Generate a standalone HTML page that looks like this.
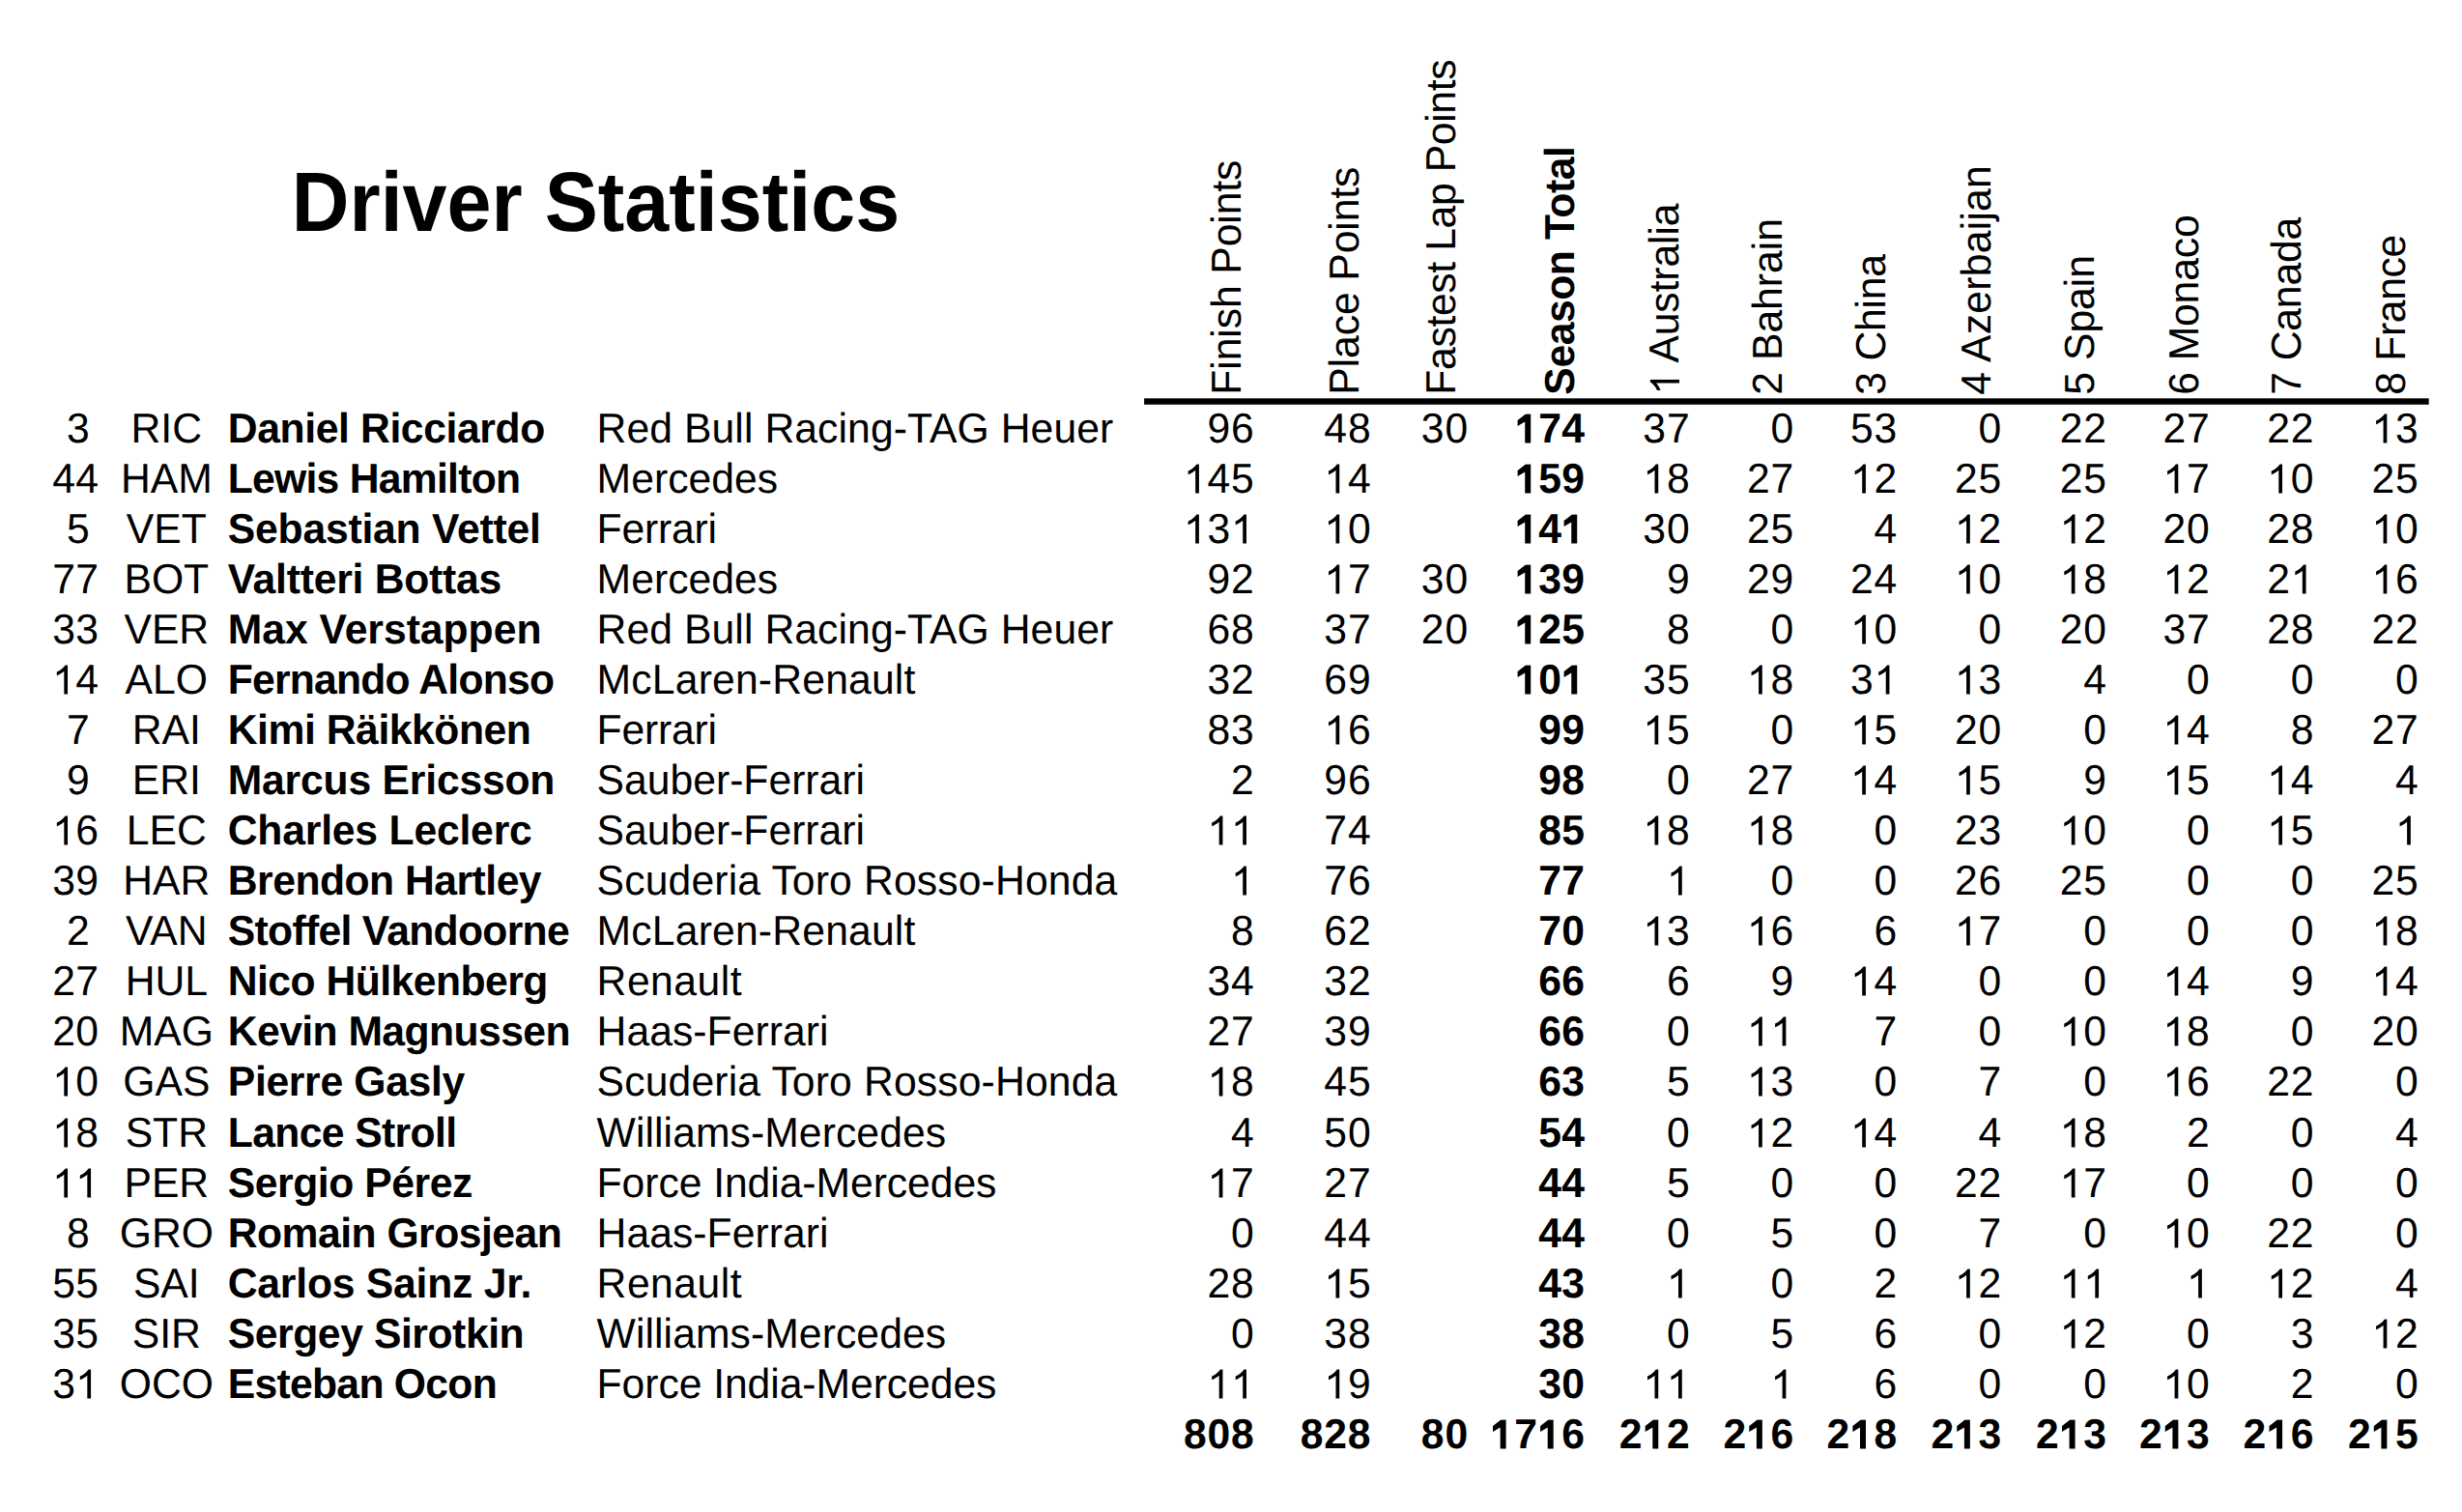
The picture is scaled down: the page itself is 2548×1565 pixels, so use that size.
<!DOCTYPE html>
<html><head><meta charset="utf-8"><style>
html,body{margin:0;padding:0;background:#fff;}
body{width:2548px;height:1565px;position:relative;overflow:hidden;font-family:"Liberation Sans",sans-serif;color:#000;}
.o,.ob{position:relative;color:transparent;}
.o::before,.ob::before{content:"";position:absolute;left:0;top:0.2003em;width:0.5562em;height:0.705em;background:#000;}
.ob::before{top:0.2053em;height:0.70em;}
.o::before{clip-path:polygon(66.99% 100.00%,51.19% 100.00%,51.19% 21.76%,48.40% 23.74%,45.74% 25.46%,43.22% 26.91%,40.83% 28.10%,38.50% 29.16%,36.18% 30.22%,33.87% 31.28%,31.56% 32.33%,29.09% 33.39%,26.26% 34.45%,23.09% 35.50%,19.58% 36.56%,19.58% 24.69%,25.69% 22.36%,30.76% 20.20%,34.80% 18.21%,37.80% 16.41%,40.28% 14.68%,42.76% 12.96%,45.24% 11.24%,47.72% 9.52%,50.15% 7.63%,52.47% 5.41%,54.69% 2.87%,56.80% 0.00%,66.99% 0.00%);}
.ob::before{clip-path:polygon(67.16% 100.00%,41.97% 100.00%,41.97% 27.40%,9.83% 42.23%,9.83% 22.36%,46.36% 0.00%,67.16% 0.00%);}
.t{position:absolute;white-space:nowrap;line-height:normal;text-rendering:geometricPrecision;}
</style></head><body>
<svg style="position:absolute;left:0;top:0" width="2548" height="600"><rect x="1184.10" y="412.30" width="1329.60" height="6.45" fill="#000"/></svg>
<div class="t" style="top:162.91px;font-size:82.67px;transform-origin:0 74.839px;transform:scaleY(1.0570);font-weight:bold;left:301.80px;">Driver Statistics</div>
<div class="t" style="top:419.61px;font-size:42.67px;transform-origin:0 38.628px;transform:scaleY(1.0170);letter-spacing:0.300px;left:81.00px;width:200px;margin-left:-100px;text-align:center;">3</div>
<div class="t" style="top:419.61px;font-size:42.67px;transform-origin:0 38.628px;transform:scaleY(1.0170);left:172.30px;width:200px;margin-left:-100px;text-align:center;">RIC</div>
<div class="t" style="top:419.61px;font-size:42.67px;transform-origin:0 38.628px;transform:scaleY(1.0170);font-weight:bold;letter-spacing:-0.380px;left:235.75px;">Daniel Ricciardo</div>
<div class="t" style="top:419.61px;font-size:42.67px;transform-origin:0 38.628px;transform:scaleY(1.0170);letter-spacing:0.083px;left:617.60px;">Red Bull Racing-TAG Heuer</div>
<div class="t" style="top:419.61px;font-size:42.67px;transform-origin:0 38.628px;transform:scaleY(1.0170);letter-spacing:0.800px;right:1249.40px;">96</div>
<div class="t" style="top:419.61px;font-size:42.67px;transform-origin:0 38.628px;transform:scaleY(1.0170);letter-spacing:0.800px;right:1128.60px;">48</div>
<div class="t" style="top:419.61px;font-size:42.67px;transform-origin:0 38.628px;transform:scaleY(1.0170);letter-spacing:0.800px;right:1028.10px;">30</div>
<div class="t" style="top:419.61px;font-size:42.67px;transform-origin:0 38.628px;transform:scaleY(1.0170);font-weight:bold;letter-spacing:0.270px;right:907.73px;"><span class="ob">1</span>74</div>
<div class="t" style="top:419.61px;font-size:42.67px;transform-origin:0 38.628px;transform:scaleY(1.0170);letter-spacing:0.800px;right:798.60px;">37</div>
<div class="t" style="top:419.61px;font-size:42.67px;transform-origin:0 38.628px;transform:scaleY(1.0170);letter-spacing:0.800px;right:691.00px;">0</div>
<div class="t" style="top:419.61px;font-size:42.67px;transform-origin:0 38.628px;transform:scaleY(1.0170);letter-spacing:0.800px;right:583.90px;">53</div>
<div class="t" style="top:419.61px;font-size:42.67px;transform-origin:0 38.628px;transform:scaleY(1.0170);letter-spacing:0.800px;right:476.00px;">0</div>
<div class="t" style="top:419.61px;font-size:42.67px;transform-origin:0 38.628px;transform:scaleY(1.0170);letter-spacing:0.800px;right:367.30px;">22</div>
<div class="t" style="top:419.61px;font-size:42.67px;transform-origin:0 38.628px;transform:scaleY(1.0170);letter-spacing:0.800px;right:260.50px;">27</div>
<div class="t" style="top:419.61px;font-size:42.67px;transform-origin:0 38.628px;transform:scaleY(1.0170);letter-spacing:0.800px;right:152.80px;">22</div>
<div class="t" style="top:419.61px;font-size:42.67px;transform-origin:0 38.628px;transform:scaleY(1.0170);letter-spacing:0.800px;right:44.50px;"><span class="o">1</span>3</div>
<div class="t" style="top:471.68px;font-size:42.67px;transform-origin:0 38.628px;transform:scaleY(1.0170);letter-spacing:0.300px;left:78.20px;width:200px;margin-left:-100px;text-align:center;">44</div>
<div class="t" style="top:471.68px;font-size:42.67px;transform-origin:0 38.628px;transform:scaleY(1.0170);left:172.30px;width:200px;margin-left:-100px;text-align:center;">HAM</div>
<div class="t" style="top:471.68px;font-size:42.67px;transform-origin:0 38.628px;transform:scaleY(1.0170);font-weight:bold;letter-spacing:-0.738px;left:235.75px;">Lewis Hamilton</div>
<div class="t" style="top:471.68px;font-size:42.67px;transform-origin:0 38.628px;transform:scaleY(1.0170);letter-spacing:0.029px;left:617.60px;">Mercedes</div>
<div class="t" style="top:471.68px;font-size:42.67px;transform-origin:0 38.628px;transform:scaleY(1.0170);letter-spacing:0.800px;right:1249.40px;"><span class="o">1</span>45</div>
<div class="t" style="top:471.68px;font-size:42.67px;transform-origin:0 38.628px;transform:scaleY(1.0170);letter-spacing:0.800px;right:1128.60px;"><span class="o">1</span>4</div>
<div class="t" style="top:471.68px;font-size:42.67px;transform-origin:0 38.628px;transform:scaleY(1.0170);font-weight:bold;letter-spacing:0.270px;right:907.73px;"><span class="ob">1</span>59</div>
<div class="t" style="top:471.68px;font-size:42.67px;transform-origin:0 38.628px;transform:scaleY(1.0170);letter-spacing:0.800px;right:798.60px;"><span class="o">1</span>8</div>
<div class="t" style="top:471.68px;font-size:42.67px;transform-origin:0 38.628px;transform:scaleY(1.0170);letter-spacing:0.800px;right:691.00px;">27</div>
<div class="t" style="top:471.68px;font-size:42.67px;transform-origin:0 38.628px;transform:scaleY(1.0170);letter-spacing:0.800px;right:583.90px;"><span class="o">1</span>2</div>
<div class="t" style="top:471.68px;font-size:42.67px;transform-origin:0 38.628px;transform:scaleY(1.0170);letter-spacing:0.800px;right:476.00px;">25</div>
<div class="t" style="top:471.68px;font-size:42.67px;transform-origin:0 38.628px;transform:scaleY(1.0170);letter-spacing:0.800px;right:367.30px;">25</div>
<div class="t" style="top:471.68px;font-size:42.67px;transform-origin:0 38.628px;transform:scaleY(1.0170);letter-spacing:0.800px;right:260.50px;"><span class="o">1</span>7</div>
<div class="t" style="top:471.68px;font-size:42.67px;transform-origin:0 38.628px;transform:scaleY(1.0170);letter-spacing:0.800px;right:152.80px;"><span class="o">1</span>0</div>
<div class="t" style="top:471.68px;font-size:42.67px;transform-origin:0 38.628px;transform:scaleY(1.0170);letter-spacing:0.800px;right:44.50px;">25</div>
<div class="t" style="top:523.74px;font-size:42.67px;transform-origin:0 38.628px;transform:scaleY(1.0170);letter-spacing:0.300px;left:81.00px;width:200px;margin-left:-100px;text-align:center;">5</div>
<div class="t" style="top:523.74px;font-size:42.67px;transform-origin:0 38.628px;transform:scaleY(1.0170);left:172.30px;width:200px;margin-left:-100px;text-align:center;">VET</div>
<div class="t" style="top:523.74px;font-size:42.67px;transform-origin:0 38.628px;transform:scaleY(1.0170);font-weight:bold;letter-spacing:-0.200px;left:235.75px;">Sebastian Vettel</div>
<div class="t" style="top:523.74px;font-size:42.67px;transform-origin:0 38.628px;transform:scaleY(1.0170);letter-spacing:-0.217px;left:617.60px;">Ferrari</div>
<div class="t" style="top:523.74px;font-size:42.67px;transform-origin:0 38.628px;transform:scaleY(1.0170);letter-spacing:0.800px;right:1249.40px;"><span class="o">1</span>3<span class="o">1</span></div>
<div class="t" style="top:523.74px;font-size:42.67px;transform-origin:0 38.628px;transform:scaleY(1.0170);letter-spacing:0.800px;right:1128.60px;"><span class="o">1</span>0</div>
<div class="t" style="top:523.74px;font-size:42.67px;transform-origin:0 38.628px;transform:scaleY(1.0170);font-weight:bold;letter-spacing:0.270px;right:907.73px;"><span class="ob">1</span>4<span class="ob">1</span></div>
<div class="t" style="top:523.74px;font-size:42.67px;transform-origin:0 38.628px;transform:scaleY(1.0170);letter-spacing:0.800px;right:798.60px;">30</div>
<div class="t" style="top:523.74px;font-size:42.67px;transform-origin:0 38.628px;transform:scaleY(1.0170);letter-spacing:0.800px;right:691.00px;">25</div>
<div class="t" style="top:523.74px;font-size:42.67px;transform-origin:0 38.628px;transform:scaleY(1.0170);letter-spacing:0.800px;right:583.90px;">4</div>
<div class="t" style="top:523.74px;font-size:42.67px;transform-origin:0 38.628px;transform:scaleY(1.0170);letter-spacing:0.800px;right:476.00px;"><span class="o">1</span>2</div>
<div class="t" style="top:523.74px;font-size:42.67px;transform-origin:0 38.628px;transform:scaleY(1.0170);letter-spacing:0.800px;right:367.30px;"><span class="o">1</span>2</div>
<div class="t" style="top:523.74px;font-size:42.67px;transform-origin:0 38.628px;transform:scaleY(1.0170);letter-spacing:0.800px;right:260.50px;">20</div>
<div class="t" style="top:523.74px;font-size:42.67px;transform-origin:0 38.628px;transform:scaleY(1.0170);letter-spacing:0.800px;right:152.80px;">28</div>
<div class="t" style="top:523.74px;font-size:42.67px;transform-origin:0 38.628px;transform:scaleY(1.0170);letter-spacing:0.800px;right:44.50px;"><span class="o">1</span>0</div>
<div class="t" style="top:575.80px;font-size:42.67px;transform-origin:0 38.628px;transform:scaleY(1.0170);letter-spacing:0.300px;left:78.20px;width:200px;margin-left:-100px;text-align:center;">77</div>
<div class="t" style="top:575.80px;font-size:42.67px;transform-origin:0 38.628px;transform:scaleY(1.0170);left:172.30px;width:200px;margin-left:-100px;text-align:center;">BOT</div>
<div class="t" style="top:575.80px;font-size:42.67px;transform-origin:0 38.628px;transform:scaleY(1.0170);font-weight:bold;letter-spacing:-0.236px;left:235.75px;">Valtteri Bottas</div>
<div class="t" style="top:575.80px;font-size:42.67px;transform-origin:0 38.628px;transform:scaleY(1.0170);letter-spacing:0.029px;left:617.60px;">Mercedes</div>
<div class="t" style="top:575.80px;font-size:42.67px;transform-origin:0 38.628px;transform:scaleY(1.0170);letter-spacing:0.800px;right:1249.40px;">92</div>
<div class="t" style="top:575.80px;font-size:42.67px;transform-origin:0 38.628px;transform:scaleY(1.0170);letter-spacing:0.800px;right:1128.60px;"><span class="o">1</span>7</div>
<div class="t" style="top:575.80px;font-size:42.67px;transform-origin:0 38.628px;transform:scaleY(1.0170);letter-spacing:0.800px;right:1028.10px;">30</div>
<div class="t" style="top:575.80px;font-size:42.67px;transform-origin:0 38.628px;transform:scaleY(1.0170);font-weight:bold;letter-spacing:0.270px;right:907.73px;"><span class="ob">1</span>39</div>
<div class="t" style="top:575.80px;font-size:42.67px;transform-origin:0 38.628px;transform:scaleY(1.0170);letter-spacing:0.800px;right:798.60px;">9</div>
<div class="t" style="top:575.80px;font-size:42.67px;transform-origin:0 38.628px;transform:scaleY(1.0170);letter-spacing:0.800px;right:691.00px;">29</div>
<div class="t" style="top:575.80px;font-size:42.67px;transform-origin:0 38.628px;transform:scaleY(1.0170);letter-spacing:0.800px;right:583.90px;">24</div>
<div class="t" style="top:575.80px;font-size:42.67px;transform-origin:0 38.628px;transform:scaleY(1.0170);letter-spacing:0.800px;right:476.00px;"><span class="o">1</span>0</div>
<div class="t" style="top:575.80px;font-size:42.67px;transform-origin:0 38.628px;transform:scaleY(1.0170);letter-spacing:0.800px;right:367.30px;"><span class="o">1</span>8</div>
<div class="t" style="top:575.80px;font-size:42.67px;transform-origin:0 38.628px;transform:scaleY(1.0170);letter-spacing:0.800px;right:260.50px;"><span class="o">1</span>2</div>
<div class="t" style="top:575.80px;font-size:42.67px;transform-origin:0 38.628px;transform:scaleY(1.0170);letter-spacing:0.800px;right:152.80px;">2<span class="o">1</span></div>
<div class="t" style="top:575.80px;font-size:42.67px;transform-origin:0 38.628px;transform:scaleY(1.0170);letter-spacing:0.800px;right:44.50px;"><span class="o">1</span>6</div>
<div class="t" style="top:627.87px;font-size:42.67px;transform-origin:0 38.628px;transform:scaleY(1.0170);letter-spacing:0.300px;left:78.20px;width:200px;margin-left:-100px;text-align:center;">33</div>
<div class="t" style="top:627.87px;font-size:42.67px;transform-origin:0 38.628px;transform:scaleY(1.0170);left:172.30px;width:200px;margin-left:-100px;text-align:center;">VER</div>
<div class="t" style="top:627.87px;font-size:42.67px;transform-origin:0 38.628px;transform:scaleY(1.0170);font-weight:bold;letter-spacing:-0.008px;left:235.75px;">Max Verstappen</div>
<div class="t" style="top:627.87px;font-size:42.67px;transform-origin:0 38.628px;transform:scaleY(1.0170);letter-spacing:0.083px;left:617.60px;">Red Bull Racing-TAG Heuer</div>
<div class="t" style="top:627.87px;font-size:42.67px;transform-origin:0 38.628px;transform:scaleY(1.0170);letter-spacing:0.800px;right:1249.40px;">68</div>
<div class="t" style="top:627.87px;font-size:42.67px;transform-origin:0 38.628px;transform:scaleY(1.0170);letter-spacing:0.800px;right:1128.60px;">37</div>
<div class="t" style="top:627.87px;font-size:42.67px;transform-origin:0 38.628px;transform:scaleY(1.0170);letter-spacing:0.800px;right:1028.10px;">20</div>
<div class="t" style="top:627.87px;font-size:42.67px;transform-origin:0 38.628px;transform:scaleY(1.0170);font-weight:bold;letter-spacing:0.270px;right:907.73px;"><span class="ob">1</span>25</div>
<div class="t" style="top:627.87px;font-size:42.67px;transform-origin:0 38.628px;transform:scaleY(1.0170);letter-spacing:0.800px;right:798.60px;">8</div>
<div class="t" style="top:627.87px;font-size:42.67px;transform-origin:0 38.628px;transform:scaleY(1.0170);letter-spacing:0.800px;right:691.00px;">0</div>
<div class="t" style="top:627.87px;font-size:42.67px;transform-origin:0 38.628px;transform:scaleY(1.0170);letter-spacing:0.800px;right:583.90px;"><span class="o">1</span>0</div>
<div class="t" style="top:627.87px;font-size:42.67px;transform-origin:0 38.628px;transform:scaleY(1.0170);letter-spacing:0.800px;right:476.00px;">0</div>
<div class="t" style="top:627.87px;font-size:42.67px;transform-origin:0 38.628px;transform:scaleY(1.0170);letter-spacing:0.800px;right:367.30px;">20</div>
<div class="t" style="top:627.87px;font-size:42.67px;transform-origin:0 38.628px;transform:scaleY(1.0170);letter-spacing:0.800px;right:260.50px;">37</div>
<div class="t" style="top:627.87px;font-size:42.67px;transform-origin:0 38.628px;transform:scaleY(1.0170);letter-spacing:0.800px;right:152.80px;">28</div>
<div class="t" style="top:627.87px;font-size:42.67px;transform-origin:0 38.628px;transform:scaleY(1.0170);letter-spacing:0.800px;right:44.50px;">22</div>
<div class="t" style="top:679.93px;font-size:42.67px;transform-origin:0 38.628px;transform:scaleY(1.0170);letter-spacing:0.300px;left:78.20px;width:200px;margin-left:-100px;text-align:center;"><span class="o">1</span>4</div>
<div class="t" style="top:679.93px;font-size:42.67px;transform-origin:0 38.628px;transform:scaleY(1.0170);left:172.30px;width:200px;margin-left:-100px;text-align:center;">ALO</div>
<div class="t" style="top:679.93px;font-size:42.67px;transform-origin:0 38.628px;transform:scaleY(1.0170);font-weight:bold;letter-spacing:-0.779px;left:235.75px;">Fernando Alonso</div>
<div class="t" style="top:679.93px;font-size:42.67px;transform-origin:0 38.628px;transform:scaleY(1.0170);letter-spacing:0.186px;left:617.60px;">McLaren-Renault</div>
<div class="t" style="top:679.93px;font-size:42.67px;transform-origin:0 38.628px;transform:scaleY(1.0170);letter-spacing:0.800px;right:1249.40px;">32</div>
<div class="t" style="top:679.93px;font-size:42.67px;transform-origin:0 38.628px;transform:scaleY(1.0170);letter-spacing:0.800px;right:1128.60px;">69</div>
<div class="t" style="top:679.93px;font-size:42.67px;transform-origin:0 38.628px;transform:scaleY(1.0170);font-weight:bold;letter-spacing:0.270px;right:907.73px;"><span class="ob">1</span>0<span class="ob">1</span></div>
<div class="t" style="top:679.93px;font-size:42.67px;transform-origin:0 38.628px;transform:scaleY(1.0170);letter-spacing:0.800px;right:798.60px;">35</div>
<div class="t" style="top:679.93px;font-size:42.67px;transform-origin:0 38.628px;transform:scaleY(1.0170);letter-spacing:0.800px;right:691.00px;"><span class="o">1</span>8</div>
<div class="t" style="top:679.93px;font-size:42.67px;transform-origin:0 38.628px;transform:scaleY(1.0170);letter-spacing:0.800px;right:583.90px;">3<span class="o">1</span></div>
<div class="t" style="top:679.93px;font-size:42.67px;transform-origin:0 38.628px;transform:scaleY(1.0170);letter-spacing:0.800px;right:476.00px;"><span class="o">1</span>3</div>
<div class="t" style="top:679.93px;font-size:42.67px;transform-origin:0 38.628px;transform:scaleY(1.0170);letter-spacing:0.800px;right:367.30px;">4</div>
<div class="t" style="top:679.93px;font-size:42.67px;transform-origin:0 38.628px;transform:scaleY(1.0170);letter-spacing:0.800px;right:260.50px;">0</div>
<div class="t" style="top:679.93px;font-size:42.67px;transform-origin:0 38.628px;transform:scaleY(1.0170);letter-spacing:0.800px;right:152.80px;">0</div>
<div class="t" style="top:679.93px;font-size:42.67px;transform-origin:0 38.628px;transform:scaleY(1.0170);letter-spacing:0.800px;right:44.50px;">0</div>
<div class="t" style="top:732.00px;font-size:42.67px;transform-origin:0 38.628px;transform:scaleY(1.0170);letter-spacing:0.300px;left:81.00px;width:200px;margin-left:-100px;text-align:center;">7</div>
<div class="t" style="top:732.00px;font-size:42.67px;transform-origin:0 38.628px;transform:scaleY(1.0170);left:172.30px;width:200px;margin-left:-100px;text-align:center;">RAI</div>
<div class="t" style="top:732.00px;font-size:42.67px;transform-origin:0 38.628px;transform:scaleY(1.0170);font-weight:bold;letter-spacing:-0.454px;left:235.75px;">Kimi Räikkönen</div>
<div class="t" style="top:732.00px;font-size:42.67px;transform-origin:0 38.628px;transform:scaleY(1.0170);letter-spacing:-0.217px;left:617.60px;">Ferrari</div>
<div class="t" style="top:732.00px;font-size:42.67px;transform-origin:0 38.628px;transform:scaleY(1.0170);letter-spacing:0.800px;right:1249.40px;">83</div>
<div class="t" style="top:732.00px;font-size:42.67px;transform-origin:0 38.628px;transform:scaleY(1.0170);letter-spacing:0.800px;right:1128.60px;"><span class="o">1</span>6</div>
<div class="t" style="top:732.00px;font-size:42.67px;transform-origin:0 38.628px;transform:scaleY(1.0170);font-weight:bold;letter-spacing:0.270px;right:907.73px;">99</div>
<div class="t" style="top:732.00px;font-size:42.67px;transform-origin:0 38.628px;transform:scaleY(1.0170);letter-spacing:0.800px;right:798.60px;"><span class="o">1</span>5</div>
<div class="t" style="top:732.00px;font-size:42.67px;transform-origin:0 38.628px;transform:scaleY(1.0170);letter-spacing:0.800px;right:691.00px;">0</div>
<div class="t" style="top:732.00px;font-size:42.67px;transform-origin:0 38.628px;transform:scaleY(1.0170);letter-spacing:0.800px;right:583.90px;"><span class="o">1</span>5</div>
<div class="t" style="top:732.00px;font-size:42.67px;transform-origin:0 38.628px;transform:scaleY(1.0170);letter-spacing:0.800px;right:476.00px;">20</div>
<div class="t" style="top:732.00px;font-size:42.67px;transform-origin:0 38.628px;transform:scaleY(1.0170);letter-spacing:0.800px;right:367.30px;">0</div>
<div class="t" style="top:732.00px;font-size:42.67px;transform-origin:0 38.628px;transform:scaleY(1.0170);letter-spacing:0.800px;right:260.50px;"><span class="o">1</span>4</div>
<div class="t" style="top:732.00px;font-size:42.67px;transform-origin:0 38.628px;transform:scaleY(1.0170);letter-spacing:0.800px;right:152.80px;">8</div>
<div class="t" style="top:732.00px;font-size:42.67px;transform-origin:0 38.628px;transform:scaleY(1.0170);letter-spacing:0.800px;right:44.50px;">27</div>
<div class="t" style="top:784.06px;font-size:42.67px;transform-origin:0 38.628px;transform:scaleY(1.0170);letter-spacing:0.300px;left:81.00px;width:200px;margin-left:-100px;text-align:center;">9</div>
<div class="t" style="top:784.06px;font-size:42.67px;transform-origin:0 38.628px;transform:scaleY(1.0170);left:172.30px;width:200px;margin-left:-100px;text-align:center;">ERI</div>
<div class="t" style="top:784.06px;font-size:42.67px;transform-origin:0 38.628px;transform:scaleY(1.0170);font-weight:bold;letter-spacing:-0.196px;left:235.75px;">Marcus Ericsson</div>
<div class="t" style="top:784.06px;font-size:42.67px;transform-origin:0 38.628px;transform:scaleY(1.0170);left:617.60px;">Sauber-Ferrari</div>
<div class="t" style="top:784.06px;font-size:42.67px;transform-origin:0 38.628px;transform:scaleY(1.0170);letter-spacing:0.800px;right:1249.40px;">2</div>
<div class="t" style="top:784.06px;font-size:42.67px;transform-origin:0 38.628px;transform:scaleY(1.0170);letter-spacing:0.800px;right:1128.60px;">96</div>
<div class="t" style="top:784.06px;font-size:42.67px;transform-origin:0 38.628px;transform:scaleY(1.0170);font-weight:bold;letter-spacing:0.270px;right:907.73px;">98</div>
<div class="t" style="top:784.06px;font-size:42.67px;transform-origin:0 38.628px;transform:scaleY(1.0170);letter-spacing:0.800px;right:798.60px;">0</div>
<div class="t" style="top:784.06px;font-size:42.67px;transform-origin:0 38.628px;transform:scaleY(1.0170);letter-spacing:0.800px;right:691.00px;">27</div>
<div class="t" style="top:784.06px;font-size:42.67px;transform-origin:0 38.628px;transform:scaleY(1.0170);letter-spacing:0.800px;right:583.90px;"><span class="o">1</span>4</div>
<div class="t" style="top:784.06px;font-size:42.67px;transform-origin:0 38.628px;transform:scaleY(1.0170);letter-spacing:0.800px;right:476.00px;"><span class="o">1</span>5</div>
<div class="t" style="top:784.06px;font-size:42.67px;transform-origin:0 38.628px;transform:scaleY(1.0170);letter-spacing:0.800px;right:367.30px;">9</div>
<div class="t" style="top:784.06px;font-size:42.67px;transform-origin:0 38.628px;transform:scaleY(1.0170);letter-spacing:0.800px;right:260.50px;"><span class="o">1</span>5</div>
<div class="t" style="top:784.06px;font-size:42.67px;transform-origin:0 38.628px;transform:scaleY(1.0170);letter-spacing:0.800px;right:152.80px;"><span class="o">1</span>4</div>
<div class="t" style="top:784.06px;font-size:42.67px;transform-origin:0 38.628px;transform:scaleY(1.0170);letter-spacing:0.800px;right:44.50px;">4</div>
<div class="t" style="top:836.12px;font-size:42.67px;transform-origin:0 38.628px;transform:scaleY(1.0170);letter-spacing:0.300px;left:78.20px;width:200px;margin-left:-100px;text-align:center;"><span class="o">1</span>6</div>
<div class="t" style="top:836.12px;font-size:42.67px;transform-origin:0 38.628px;transform:scaleY(1.0170);left:172.30px;width:200px;margin-left:-100px;text-align:center;">LEC</div>
<div class="t" style="top:836.12px;font-size:42.67px;transform-origin:0 38.628px;transform:scaleY(1.0170);font-weight:bold;letter-spacing:-0.193px;left:235.75px;">Charles Leclerc</div>
<div class="t" style="top:836.12px;font-size:42.67px;transform-origin:0 38.628px;transform:scaleY(1.0170);left:617.60px;">Sauber-Ferrari</div>
<div class="t" style="top:836.12px;font-size:42.67px;transform-origin:0 38.628px;transform:scaleY(1.0170);letter-spacing:0.800px;right:1249.40px;"><span class="o">1</span><span class="o">1</span></div>
<div class="t" style="top:836.12px;font-size:42.67px;transform-origin:0 38.628px;transform:scaleY(1.0170);letter-spacing:0.800px;right:1128.60px;">74</div>
<div class="t" style="top:836.12px;font-size:42.67px;transform-origin:0 38.628px;transform:scaleY(1.0170);font-weight:bold;letter-spacing:0.270px;right:907.73px;">85</div>
<div class="t" style="top:836.12px;font-size:42.67px;transform-origin:0 38.628px;transform:scaleY(1.0170);letter-spacing:0.800px;right:798.60px;"><span class="o">1</span>8</div>
<div class="t" style="top:836.12px;font-size:42.67px;transform-origin:0 38.628px;transform:scaleY(1.0170);letter-spacing:0.800px;right:691.00px;"><span class="o">1</span>8</div>
<div class="t" style="top:836.12px;font-size:42.67px;transform-origin:0 38.628px;transform:scaleY(1.0170);letter-spacing:0.800px;right:583.90px;">0</div>
<div class="t" style="top:836.12px;font-size:42.67px;transform-origin:0 38.628px;transform:scaleY(1.0170);letter-spacing:0.800px;right:476.00px;">23</div>
<div class="t" style="top:836.12px;font-size:42.67px;transform-origin:0 38.628px;transform:scaleY(1.0170);letter-spacing:0.800px;right:367.30px;"><span class="o">1</span>0</div>
<div class="t" style="top:836.12px;font-size:42.67px;transform-origin:0 38.628px;transform:scaleY(1.0170);letter-spacing:0.800px;right:260.50px;">0</div>
<div class="t" style="top:836.12px;font-size:42.67px;transform-origin:0 38.628px;transform:scaleY(1.0170);letter-spacing:0.800px;right:152.80px;"><span class="o">1</span>5</div>
<div class="t" style="top:836.12px;font-size:42.67px;transform-origin:0 38.628px;transform:scaleY(1.0170);letter-spacing:0.800px;right:44.50px;"><span class="o">1</span></div>
<div class="t" style="top:888.19px;font-size:42.67px;transform-origin:0 38.628px;transform:scaleY(1.0170);letter-spacing:0.300px;left:78.20px;width:200px;margin-left:-100px;text-align:center;">39</div>
<div class="t" style="top:888.19px;font-size:42.67px;transform-origin:0 38.628px;transform:scaleY(1.0170);left:172.30px;width:200px;margin-left:-100px;text-align:center;">HAR</div>
<div class="t" style="top:888.19px;font-size:42.67px;transform-origin:0 38.628px;transform:scaleY(1.0170);font-weight:bold;letter-spacing:-0.500px;left:235.75px;">Brendon Hartley</div>
<div class="t" style="top:888.19px;font-size:42.67px;transform-origin:0 38.628px;transform:scaleY(1.0170);letter-spacing:0.150px;left:617.60px;">Scuderia Toro Rosso-Honda</div>
<div class="t" style="top:888.19px;font-size:42.67px;transform-origin:0 38.628px;transform:scaleY(1.0170);letter-spacing:0.800px;right:1249.40px;"><span class="o">1</span></div>
<div class="t" style="top:888.19px;font-size:42.67px;transform-origin:0 38.628px;transform:scaleY(1.0170);letter-spacing:0.800px;right:1128.60px;">76</div>
<div class="t" style="top:888.19px;font-size:42.67px;transform-origin:0 38.628px;transform:scaleY(1.0170);font-weight:bold;letter-spacing:0.270px;right:907.73px;">77</div>
<div class="t" style="top:888.19px;font-size:42.67px;transform-origin:0 38.628px;transform:scaleY(1.0170);letter-spacing:0.800px;right:798.60px;"><span class="o">1</span></div>
<div class="t" style="top:888.19px;font-size:42.67px;transform-origin:0 38.628px;transform:scaleY(1.0170);letter-spacing:0.800px;right:691.00px;">0</div>
<div class="t" style="top:888.19px;font-size:42.67px;transform-origin:0 38.628px;transform:scaleY(1.0170);letter-spacing:0.800px;right:583.90px;">0</div>
<div class="t" style="top:888.19px;font-size:42.67px;transform-origin:0 38.628px;transform:scaleY(1.0170);letter-spacing:0.800px;right:476.00px;">26</div>
<div class="t" style="top:888.19px;font-size:42.67px;transform-origin:0 38.628px;transform:scaleY(1.0170);letter-spacing:0.800px;right:367.30px;">25</div>
<div class="t" style="top:888.19px;font-size:42.67px;transform-origin:0 38.628px;transform:scaleY(1.0170);letter-spacing:0.800px;right:260.50px;">0</div>
<div class="t" style="top:888.19px;font-size:42.67px;transform-origin:0 38.628px;transform:scaleY(1.0170);letter-spacing:0.800px;right:152.80px;">0</div>
<div class="t" style="top:888.19px;font-size:42.67px;transform-origin:0 38.628px;transform:scaleY(1.0170);letter-spacing:0.800px;right:44.50px;">25</div>
<div class="t" style="top:940.25px;font-size:42.67px;transform-origin:0 38.628px;transform:scaleY(1.0170);letter-spacing:0.300px;left:81.00px;width:200px;margin-left:-100px;text-align:center;">2</div>
<div class="t" style="top:940.25px;font-size:42.67px;transform-origin:0 38.628px;transform:scaleY(1.0170);left:172.30px;width:200px;margin-left:-100px;text-align:center;">VAN</div>
<div class="t" style="top:940.25px;font-size:42.67px;transform-origin:0 38.628px;transform:scaleY(1.0170);font-weight:bold;letter-spacing:-0.694px;left:235.75px;">Stoffel Vandoorne</div>
<div class="t" style="top:940.25px;font-size:42.67px;transform-origin:0 38.628px;transform:scaleY(1.0170);letter-spacing:0.186px;left:617.60px;">McLaren-Renault</div>
<div class="t" style="top:940.25px;font-size:42.67px;transform-origin:0 38.628px;transform:scaleY(1.0170);letter-spacing:0.800px;right:1249.40px;">8</div>
<div class="t" style="top:940.25px;font-size:42.67px;transform-origin:0 38.628px;transform:scaleY(1.0170);letter-spacing:0.800px;right:1128.60px;">62</div>
<div class="t" style="top:940.25px;font-size:42.67px;transform-origin:0 38.628px;transform:scaleY(1.0170);font-weight:bold;letter-spacing:0.270px;right:907.73px;">70</div>
<div class="t" style="top:940.25px;font-size:42.67px;transform-origin:0 38.628px;transform:scaleY(1.0170);letter-spacing:0.800px;right:798.60px;"><span class="o">1</span>3</div>
<div class="t" style="top:940.25px;font-size:42.67px;transform-origin:0 38.628px;transform:scaleY(1.0170);letter-spacing:0.800px;right:691.00px;"><span class="o">1</span>6</div>
<div class="t" style="top:940.25px;font-size:42.67px;transform-origin:0 38.628px;transform:scaleY(1.0170);letter-spacing:0.800px;right:583.90px;">6</div>
<div class="t" style="top:940.25px;font-size:42.67px;transform-origin:0 38.628px;transform:scaleY(1.0170);letter-spacing:0.800px;right:476.00px;"><span class="o">1</span>7</div>
<div class="t" style="top:940.25px;font-size:42.67px;transform-origin:0 38.628px;transform:scaleY(1.0170);letter-spacing:0.800px;right:367.30px;">0</div>
<div class="t" style="top:940.25px;font-size:42.67px;transform-origin:0 38.628px;transform:scaleY(1.0170);letter-spacing:0.800px;right:260.50px;">0</div>
<div class="t" style="top:940.25px;font-size:42.67px;transform-origin:0 38.628px;transform:scaleY(1.0170);letter-spacing:0.800px;right:152.80px;">0</div>
<div class="t" style="top:940.25px;font-size:42.67px;transform-origin:0 38.628px;transform:scaleY(1.0170);letter-spacing:0.800px;right:44.50px;"><span class="o">1</span>8</div>
<div class="t" style="top:992.32px;font-size:42.67px;transform-origin:0 38.628px;transform:scaleY(1.0170);letter-spacing:0.300px;left:78.20px;width:200px;margin-left:-100px;text-align:center;">27</div>
<div class="t" style="top:992.32px;font-size:42.67px;transform-origin:0 38.628px;transform:scaleY(1.0170);left:172.30px;width:200px;margin-left:-100px;text-align:center;">HUL</div>
<div class="t" style="top:992.32px;font-size:42.67px;transform-origin:0 38.628px;transform:scaleY(1.0170);font-weight:bold;letter-spacing:-0.524px;left:235.75px;">Nico Hülkenberg</div>
<div class="t" style="top:992.32px;font-size:42.67px;transform-origin:0 38.628px;transform:scaleY(1.0170);letter-spacing:0.483px;left:617.60px;">Renault</div>
<div class="t" style="top:992.32px;font-size:42.67px;transform-origin:0 38.628px;transform:scaleY(1.0170);letter-spacing:0.800px;right:1249.40px;">34</div>
<div class="t" style="top:992.32px;font-size:42.67px;transform-origin:0 38.628px;transform:scaleY(1.0170);letter-spacing:0.800px;right:1128.60px;">32</div>
<div class="t" style="top:992.32px;font-size:42.67px;transform-origin:0 38.628px;transform:scaleY(1.0170);font-weight:bold;letter-spacing:0.270px;right:907.73px;">66</div>
<div class="t" style="top:992.32px;font-size:42.67px;transform-origin:0 38.628px;transform:scaleY(1.0170);letter-spacing:0.800px;right:798.60px;">6</div>
<div class="t" style="top:992.32px;font-size:42.67px;transform-origin:0 38.628px;transform:scaleY(1.0170);letter-spacing:0.800px;right:691.00px;">9</div>
<div class="t" style="top:992.32px;font-size:42.67px;transform-origin:0 38.628px;transform:scaleY(1.0170);letter-spacing:0.800px;right:583.90px;"><span class="o">1</span>4</div>
<div class="t" style="top:992.32px;font-size:42.67px;transform-origin:0 38.628px;transform:scaleY(1.0170);letter-spacing:0.800px;right:476.00px;">0</div>
<div class="t" style="top:992.32px;font-size:42.67px;transform-origin:0 38.628px;transform:scaleY(1.0170);letter-spacing:0.800px;right:367.30px;">0</div>
<div class="t" style="top:992.32px;font-size:42.67px;transform-origin:0 38.628px;transform:scaleY(1.0170);letter-spacing:0.800px;right:260.50px;"><span class="o">1</span>4</div>
<div class="t" style="top:992.32px;font-size:42.67px;transform-origin:0 38.628px;transform:scaleY(1.0170);letter-spacing:0.800px;right:152.80px;">9</div>
<div class="t" style="top:992.32px;font-size:42.67px;transform-origin:0 38.628px;transform:scaleY(1.0170);letter-spacing:0.800px;right:44.50px;"><span class="o">1</span>4</div>
<div class="t" style="top:1044.38px;font-size:42.67px;transform-origin:0 38.628px;transform:scaleY(1.0170);letter-spacing:0.300px;left:78.20px;width:200px;margin-left:-100px;text-align:center;">20</div>
<div class="t" style="top:1044.38px;font-size:42.67px;transform-origin:0 38.628px;transform:scaleY(1.0170);left:172.30px;width:200px;margin-left:-100px;text-align:center;">MAG</div>
<div class="t" style="top:1044.38px;font-size:42.67px;transform-origin:0 38.628px;transform:scaleY(1.0170);font-weight:bold;letter-spacing:-0.564px;left:235.75px;">Kevin Magnussen</div>
<div class="t" style="top:1044.38px;font-size:42.67px;transform-origin:0 38.628px;transform:scaleY(1.0170);letter-spacing:0.036px;left:617.60px;">Haas-Ferrari</div>
<div class="t" style="top:1044.38px;font-size:42.67px;transform-origin:0 38.628px;transform:scaleY(1.0170);letter-spacing:0.800px;right:1249.40px;">27</div>
<div class="t" style="top:1044.38px;font-size:42.67px;transform-origin:0 38.628px;transform:scaleY(1.0170);letter-spacing:0.800px;right:1128.60px;">39</div>
<div class="t" style="top:1044.38px;font-size:42.67px;transform-origin:0 38.628px;transform:scaleY(1.0170);font-weight:bold;letter-spacing:0.270px;right:907.73px;">66</div>
<div class="t" style="top:1044.38px;font-size:42.67px;transform-origin:0 38.628px;transform:scaleY(1.0170);letter-spacing:0.800px;right:798.60px;">0</div>
<div class="t" style="top:1044.38px;font-size:42.67px;transform-origin:0 38.628px;transform:scaleY(1.0170);letter-spacing:0.800px;right:691.00px;"><span class="o">1</span><span class="o">1</span></div>
<div class="t" style="top:1044.38px;font-size:42.67px;transform-origin:0 38.628px;transform:scaleY(1.0170);letter-spacing:0.800px;right:583.90px;">7</div>
<div class="t" style="top:1044.38px;font-size:42.67px;transform-origin:0 38.628px;transform:scaleY(1.0170);letter-spacing:0.800px;right:476.00px;">0</div>
<div class="t" style="top:1044.38px;font-size:42.67px;transform-origin:0 38.628px;transform:scaleY(1.0170);letter-spacing:0.800px;right:367.30px;"><span class="o">1</span>0</div>
<div class="t" style="top:1044.38px;font-size:42.67px;transform-origin:0 38.628px;transform:scaleY(1.0170);letter-spacing:0.800px;right:260.50px;"><span class="o">1</span>8</div>
<div class="t" style="top:1044.38px;font-size:42.67px;transform-origin:0 38.628px;transform:scaleY(1.0170);letter-spacing:0.800px;right:152.80px;">0</div>
<div class="t" style="top:1044.38px;font-size:42.67px;transform-origin:0 38.628px;transform:scaleY(1.0170);letter-spacing:0.800px;right:44.50px;">20</div>
<div class="t" style="top:1096.44px;font-size:42.67px;transform-origin:0 38.628px;transform:scaleY(1.0170);letter-spacing:0.300px;left:78.20px;width:200px;margin-left:-100px;text-align:center;"><span class="o">1</span>0</div>
<div class="t" style="top:1096.44px;font-size:42.67px;transform-origin:0 38.628px;transform:scaleY(1.0170);left:172.30px;width:200px;margin-left:-100px;text-align:center;">GAS</div>
<div class="t" style="top:1096.44px;font-size:42.67px;transform-origin:0 38.628px;transform:scaleY(1.0170);font-weight:bold;letter-spacing:-0.318px;left:235.75px;">Pierre Gasly</div>
<div class="t" style="top:1096.44px;font-size:42.67px;transform-origin:0 38.628px;transform:scaleY(1.0170);letter-spacing:0.150px;left:617.60px;">Scuderia Toro Rosso-Honda</div>
<div class="t" style="top:1096.44px;font-size:42.67px;transform-origin:0 38.628px;transform:scaleY(1.0170);letter-spacing:0.800px;right:1249.40px;"><span class="o">1</span>8</div>
<div class="t" style="top:1096.44px;font-size:42.67px;transform-origin:0 38.628px;transform:scaleY(1.0170);letter-spacing:0.800px;right:1128.60px;">45</div>
<div class="t" style="top:1096.44px;font-size:42.67px;transform-origin:0 38.628px;transform:scaleY(1.0170);font-weight:bold;letter-spacing:0.270px;right:907.73px;">63</div>
<div class="t" style="top:1096.44px;font-size:42.67px;transform-origin:0 38.628px;transform:scaleY(1.0170);letter-spacing:0.800px;right:798.60px;">5</div>
<div class="t" style="top:1096.44px;font-size:42.67px;transform-origin:0 38.628px;transform:scaleY(1.0170);letter-spacing:0.800px;right:691.00px;"><span class="o">1</span>3</div>
<div class="t" style="top:1096.44px;font-size:42.67px;transform-origin:0 38.628px;transform:scaleY(1.0170);letter-spacing:0.800px;right:583.90px;">0</div>
<div class="t" style="top:1096.44px;font-size:42.67px;transform-origin:0 38.628px;transform:scaleY(1.0170);letter-spacing:0.800px;right:476.00px;">7</div>
<div class="t" style="top:1096.44px;font-size:42.67px;transform-origin:0 38.628px;transform:scaleY(1.0170);letter-spacing:0.800px;right:367.30px;">0</div>
<div class="t" style="top:1096.44px;font-size:42.67px;transform-origin:0 38.628px;transform:scaleY(1.0170);letter-spacing:0.800px;right:260.50px;"><span class="o">1</span>6</div>
<div class="t" style="top:1096.44px;font-size:42.67px;transform-origin:0 38.628px;transform:scaleY(1.0170);letter-spacing:0.800px;right:152.80px;">22</div>
<div class="t" style="top:1096.44px;font-size:42.67px;transform-origin:0 38.628px;transform:scaleY(1.0170);letter-spacing:0.800px;right:44.50px;">0</div>
<div class="t" style="top:1148.51px;font-size:42.67px;transform-origin:0 38.628px;transform:scaleY(1.0170);letter-spacing:0.300px;left:78.20px;width:200px;margin-left:-100px;text-align:center;"><span class="o">1</span>8</div>
<div class="t" style="top:1148.51px;font-size:42.67px;transform-origin:0 38.628px;transform:scaleY(1.0170);left:172.30px;width:200px;margin-left:-100px;text-align:center;">STR</div>
<div class="t" style="top:1148.51px;font-size:42.67px;transform-origin:0 38.628px;transform:scaleY(1.0170);font-weight:bold;letter-spacing:-0.618px;left:235.75px;">Lance Stroll</div>
<div class="t" style="top:1148.51px;font-size:42.67px;transform-origin:0 38.628px;transform:scaleY(1.0170);letter-spacing:0.078px;left:617.60px;">Williams-Mercedes</div>
<div class="t" style="top:1148.51px;font-size:42.67px;transform-origin:0 38.628px;transform:scaleY(1.0170);letter-spacing:0.800px;right:1249.40px;">4</div>
<div class="t" style="top:1148.51px;font-size:42.67px;transform-origin:0 38.628px;transform:scaleY(1.0170);letter-spacing:0.800px;right:1128.60px;">50</div>
<div class="t" style="top:1148.51px;font-size:42.67px;transform-origin:0 38.628px;transform:scaleY(1.0170);font-weight:bold;letter-spacing:0.270px;right:907.73px;">54</div>
<div class="t" style="top:1148.51px;font-size:42.67px;transform-origin:0 38.628px;transform:scaleY(1.0170);letter-spacing:0.800px;right:798.60px;">0</div>
<div class="t" style="top:1148.51px;font-size:42.67px;transform-origin:0 38.628px;transform:scaleY(1.0170);letter-spacing:0.800px;right:691.00px;"><span class="o">1</span>2</div>
<div class="t" style="top:1148.51px;font-size:42.67px;transform-origin:0 38.628px;transform:scaleY(1.0170);letter-spacing:0.800px;right:583.90px;"><span class="o">1</span>4</div>
<div class="t" style="top:1148.51px;font-size:42.67px;transform-origin:0 38.628px;transform:scaleY(1.0170);letter-spacing:0.800px;right:476.00px;">4</div>
<div class="t" style="top:1148.51px;font-size:42.67px;transform-origin:0 38.628px;transform:scaleY(1.0170);letter-spacing:0.800px;right:367.30px;"><span class="o">1</span>8</div>
<div class="t" style="top:1148.51px;font-size:42.67px;transform-origin:0 38.628px;transform:scaleY(1.0170);letter-spacing:0.800px;right:260.50px;">2</div>
<div class="t" style="top:1148.51px;font-size:42.67px;transform-origin:0 38.628px;transform:scaleY(1.0170);letter-spacing:0.800px;right:152.80px;">0</div>
<div class="t" style="top:1148.51px;font-size:42.67px;transform-origin:0 38.628px;transform:scaleY(1.0170);letter-spacing:0.800px;right:44.50px;">4</div>
<div class="t" style="top:1200.57px;font-size:42.67px;transform-origin:0 38.628px;transform:scaleY(1.0170);letter-spacing:0.300px;left:78.20px;width:200px;margin-left:-100px;text-align:center;"><span class="o">1</span><span class="o">1</span></div>
<div class="t" style="top:1200.57px;font-size:42.67px;transform-origin:0 38.628px;transform:scaleY(1.0170);left:172.30px;width:200px;margin-left:-100px;text-align:center;">PER</div>
<div class="t" style="top:1200.57px;font-size:42.67px;transform-origin:0 38.628px;transform:scaleY(1.0170);font-weight:bold;letter-spacing:-0.436px;left:235.75px;">Sergio Pérez</div>
<div class="t" style="top:1200.57px;font-size:42.67px;transform-origin:0 38.628px;transform:scaleY(1.0170);letter-spacing:-0.058px;left:617.60px;">Force India-Mercedes</div>
<div class="t" style="top:1200.57px;font-size:42.67px;transform-origin:0 38.628px;transform:scaleY(1.0170);letter-spacing:0.800px;right:1249.40px;"><span class="o">1</span>7</div>
<div class="t" style="top:1200.57px;font-size:42.67px;transform-origin:0 38.628px;transform:scaleY(1.0170);letter-spacing:0.800px;right:1128.60px;">27</div>
<div class="t" style="top:1200.57px;font-size:42.67px;transform-origin:0 38.628px;transform:scaleY(1.0170);font-weight:bold;letter-spacing:0.270px;right:907.73px;">44</div>
<div class="t" style="top:1200.57px;font-size:42.67px;transform-origin:0 38.628px;transform:scaleY(1.0170);letter-spacing:0.800px;right:798.60px;">5</div>
<div class="t" style="top:1200.57px;font-size:42.67px;transform-origin:0 38.628px;transform:scaleY(1.0170);letter-spacing:0.800px;right:691.00px;">0</div>
<div class="t" style="top:1200.57px;font-size:42.67px;transform-origin:0 38.628px;transform:scaleY(1.0170);letter-spacing:0.800px;right:583.90px;">0</div>
<div class="t" style="top:1200.57px;font-size:42.67px;transform-origin:0 38.628px;transform:scaleY(1.0170);letter-spacing:0.800px;right:476.00px;">22</div>
<div class="t" style="top:1200.57px;font-size:42.67px;transform-origin:0 38.628px;transform:scaleY(1.0170);letter-spacing:0.800px;right:367.30px;"><span class="o">1</span>7</div>
<div class="t" style="top:1200.57px;font-size:42.67px;transform-origin:0 38.628px;transform:scaleY(1.0170);letter-spacing:0.800px;right:260.50px;">0</div>
<div class="t" style="top:1200.57px;font-size:42.67px;transform-origin:0 38.628px;transform:scaleY(1.0170);letter-spacing:0.800px;right:152.80px;">0</div>
<div class="t" style="top:1200.57px;font-size:42.67px;transform-origin:0 38.628px;transform:scaleY(1.0170);letter-spacing:0.800px;right:44.50px;">0</div>
<div class="t" style="top:1252.64px;font-size:42.67px;transform-origin:0 38.628px;transform:scaleY(1.0170);letter-spacing:0.300px;left:81.00px;width:200px;margin-left:-100px;text-align:center;">8</div>
<div class="t" style="top:1252.64px;font-size:42.67px;transform-origin:0 38.628px;transform:scaleY(1.0170);left:172.30px;width:200px;margin-left:-100px;text-align:center;">GRO</div>
<div class="t" style="top:1252.64px;font-size:42.67px;transform-origin:0 38.628px;transform:scaleY(1.0170);font-weight:bold;letter-spacing:-0.514px;left:235.75px;">Romain Grosjean</div>
<div class="t" style="top:1252.64px;font-size:42.67px;transform-origin:0 38.628px;transform:scaleY(1.0170);letter-spacing:0.036px;left:617.60px;">Haas-Ferrari</div>
<div class="t" style="top:1252.64px;font-size:42.67px;transform-origin:0 38.628px;transform:scaleY(1.0170);letter-spacing:0.800px;right:1249.40px;">0</div>
<div class="t" style="top:1252.64px;font-size:42.67px;transform-origin:0 38.628px;transform:scaleY(1.0170);letter-spacing:0.800px;right:1128.60px;">44</div>
<div class="t" style="top:1252.64px;font-size:42.67px;transform-origin:0 38.628px;transform:scaleY(1.0170);font-weight:bold;letter-spacing:0.270px;right:907.73px;">44</div>
<div class="t" style="top:1252.64px;font-size:42.67px;transform-origin:0 38.628px;transform:scaleY(1.0170);letter-spacing:0.800px;right:798.60px;">0</div>
<div class="t" style="top:1252.64px;font-size:42.67px;transform-origin:0 38.628px;transform:scaleY(1.0170);letter-spacing:0.800px;right:691.00px;">5</div>
<div class="t" style="top:1252.64px;font-size:42.67px;transform-origin:0 38.628px;transform:scaleY(1.0170);letter-spacing:0.800px;right:583.90px;">0</div>
<div class="t" style="top:1252.64px;font-size:42.67px;transform-origin:0 38.628px;transform:scaleY(1.0170);letter-spacing:0.800px;right:476.00px;">7</div>
<div class="t" style="top:1252.64px;font-size:42.67px;transform-origin:0 38.628px;transform:scaleY(1.0170);letter-spacing:0.800px;right:367.30px;">0</div>
<div class="t" style="top:1252.64px;font-size:42.67px;transform-origin:0 38.628px;transform:scaleY(1.0170);letter-spacing:0.800px;right:260.50px;"><span class="o">1</span>0</div>
<div class="t" style="top:1252.64px;font-size:42.67px;transform-origin:0 38.628px;transform:scaleY(1.0170);letter-spacing:0.800px;right:152.80px;">22</div>
<div class="t" style="top:1252.64px;font-size:42.67px;transform-origin:0 38.628px;transform:scaleY(1.0170);letter-spacing:0.800px;right:44.50px;">0</div>
<div class="t" style="top:1304.70px;font-size:42.67px;transform-origin:0 38.628px;transform:scaleY(1.0170);letter-spacing:0.300px;left:78.20px;width:200px;margin-left:-100px;text-align:center;">55</div>
<div class="t" style="top:1304.70px;font-size:42.67px;transform-origin:0 38.628px;transform:scaleY(1.0170);left:172.30px;width:200px;margin-left:-100px;text-align:center;">SAI</div>
<div class="t" style="top:1304.70px;font-size:42.67px;transform-origin:0 38.628px;transform:scaleY(1.0170);font-weight:bold;letter-spacing:-0.213px;left:235.75px;">Carlos Sainz Jr.</div>
<div class="t" style="top:1304.70px;font-size:42.67px;transform-origin:0 38.628px;transform:scaleY(1.0170);letter-spacing:0.483px;left:617.60px;">Renault</div>
<div class="t" style="top:1304.70px;font-size:42.67px;transform-origin:0 38.628px;transform:scaleY(1.0170);letter-spacing:0.800px;right:1249.40px;">28</div>
<div class="t" style="top:1304.70px;font-size:42.67px;transform-origin:0 38.628px;transform:scaleY(1.0170);letter-spacing:0.800px;right:1128.60px;"><span class="o">1</span>5</div>
<div class="t" style="top:1304.70px;font-size:42.67px;transform-origin:0 38.628px;transform:scaleY(1.0170);font-weight:bold;letter-spacing:0.270px;right:907.73px;">43</div>
<div class="t" style="top:1304.70px;font-size:42.67px;transform-origin:0 38.628px;transform:scaleY(1.0170);letter-spacing:0.800px;right:798.60px;"><span class="o">1</span></div>
<div class="t" style="top:1304.70px;font-size:42.67px;transform-origin:0 38.628px;transform:scaleY(1.0170);letter-spacing:0.800px;right:691.00px;">0</div>
<div class="t" style="top:1304.70px;font-size:42.67px;transform-origin:0 38.628px;transform:scaleY(1.0170);letter-spacing:0.800px;right:583.90px;">2</div>
<div class="t" style="top:1304.70px;font-size:42.67px;transform-origin:0 38.628px;transform:scaleY(1.0170);letter-spacing:0.800px;right:476.00px;"><span class="o">1</span>2</div>
<div class="t" style="top:1304.70px;font-size:42.67px;transform-origin:0 38.628px;transform:scaleY(1.0170);letter-spacing:0.800px;right:367.30px;"><span class="o">1</span><span class="o">1</span></div>
<div class="t" style="top:1304.70px;font-size:42.67px;transform-origin:0 38.628px;transform:scaleY(1.0170);letter-spacing:0.800px;right:260.50px;"><span class="o">1</span></div>
<div class="t" style="top:1304.70px;font-size:42.67px;transform-origin:0 38.628px;transform:scaleY(1.0170);letter-spacing:0.800px;right:152.80px;"><span class="o">1</span>2</div>
<div class="t" style="top:1304.70px;font-size:42.67px;transform-origin:0 38.628px;transform:scaleY(1.0170);letter-spacing:0.800px;right:44.50px;">4</div>
<div class="t" style="top:1356.76px;font-size:42.67px;transform-origin:0 38.628px;transform:scaleY(1.0170);letter-spacing:0.300px;left:78.20px;width:200px;margin-left:-100px;text-align:center;">35</div>
<div class="t" style="top:1356.76px;font-size:42.67px;transform-origin:0 38.628px;transform:scaleY(1.0170);left:172.30px;width:200px;margin-left:-100px;text-align:center;">SIR</div>
<div class="t" style="top:1356.76px;font-size:42.67px;transform-origin:0 38.628px;transform:scaleY(1.0170);font-weight:bold;letter-spacing:-0.429px;left:235.75px;">Sergey Sirotkin</div>
<div class="t" style="top:1356.76px;font-size:42.67px;transform-origin:0 38.628px;transform:scaleY(1.0170);letter-spacing:0.078px;left:617.60px;">Williams-Mercedes</div>
<div class="t" style="top:1356.76px;font-size:42.67px;transform-origin:0 38.628px;transform:scaleY(1.0170);letter-spacing:0.800px;right:1249.40px;">0</div>
<div class="t" style="top:1356.76px;font-size:42.67px;transform-origin:0 38.628px;transform:scaleY(1.0170);letter-spacing:0.800px;right:1128.60px;">38</div>
<div class="t" style="top:1356.76px;font-size:42.67px;transform-origin:0 38.628px;transform:scaleY(1.0170);font-weight:bold;letter-spacing:0.270px;right:907.73px;">38</div>
<div class="t" style="top:1356.76px;font-size:42.67px;transform-origin:0 38.628px;transform:scaleY(1.0170);letter-spacing:0.800px;right:798.60px;">0</div>
<div class="t" style="top:1356.76px;font-size:42.67px;transform-origin:0 38.628px;transform:scaleY(1.0170);letter-spacing:0.800px;right:691.00px;">5</div>
<div class="t" style="top:1356.76px;font-size:42.67px;transform-origin:0 38.628px;transform:scaleY(1.0170);letter-spacing:0.800px;right:583.90px;">6</div>
<div class="t" style="top:1356.76px;font-size:42.67px;transform-origin:0 38.628px;transform:scaleY(1.0170);letter-spacing:0.800px;right:476.00px;">0</div>
<div class="t" style="top:1356.76px;font-size:42.67px;transform-origin:0 38.628px;transform:scaleY(1.0170);letter-spacing:0.800px;right:367.30px;"><span class="o">1</span>2</div>
<div class="t" style="top:1356.76px;font-size:42.67px;transform-origin:0 38.628px;transform:scaleY(1.0170);letter-spacing:0.800px;right:260.50px;">0</div>
<div class="t" style="top:1356.76px;font-size:42.67px;transform-origin:0 38.628px;transform:scaleY(1.0170);letter-spacing:0.800px;right:152.80px;">3</div>
<div class="t" style="top:1356.76px;font-size:42.67px;transform-origin:0 38.628px;transform:scaleY(1.0170);letter-spacing:0.800px;right:44.50px;"><span class="o">1</span>2</div>
<div class="t" style="top:1408.83px;font-size:42.67px;transform-origin:0 38.628px;transform:scaleY(1.0170);letter-spacing:0.300px;left:78.20px;width:200px;margin-left:-100px;text-align:center;">3<span class="o">1</span></div>
<div class="t" style="top:1408.83px;font-size:42.67px;transform-origin:0 38.628px;transform:scaleY(1.0170);left:172.30px;width:200px;margin-left:-100px;text-align:center;">OCO</div>
<div class="t" style="top:1408.83px;font-size:42.67px;transform-origin:0 38.628px;transform:scaleY(1.0170);font-weight:bold;letter-spacing:-0.709px;left:235.75px;">Esteban Ocon</div>
<div class="t" style="top:1408.83px;font-size:42.67px;transform-origin:0 38.628px;transform:scaleY(1.0170);letter-spacing:-0.058px;left:617.60px;">Force India-Mercedes</div>
<div class="t" style="top:1408.83px;font-size:42.67px;transform-origin:0 38.628px;transform:scaleY(1.0170);letter-spacing:0.800px;right:1249.40px;"><span class="o">1</span><span class="o">1</span></div>
<div class="t" style="top:1408.83px;font-size:42.67px;transform-origin:0 38.628px;transform:scaleY(1.0170);letter-spacing:0.800px;right:1128.60px;"><span class="o">1</span>9</div>
<div class="t" style="top:1408.83px;font-size:42.67px;transform-origin:0 38.628px;transform:scaleY(1.0170);font-weight:bold;letter-spacing:0.270px;right:907.73px;">30</div>
<div class="t" style="top:1408.83px;font-size:42.67px;transform-origin:0 38.628px;transform:scaleY(1.0170);letter-spacing:0.800px;right:798.60px;"><span class="o">1</span><span class="o">1</span></div>
<div class="t" style="top:1408.83px;font-size:42.67px;transform-origin:0 38.628px;transform:scaleY(1.0170);letter-spacing:0.800px;right:691.00px;"><span class="o">1</span></div>
<div class="t" style="top:1408.83px;font-size:42.67px;transform-origin:0 38.628px;transform:scaleY(1.0170);letter-spacing:0.800px;right:583.90px;">6</div>
<div class="t" style="top:1408.83px;font-size:42.67px;transform-origin:0 38.628px;transform:scaleY(1.0170);letter-spacing:0.800px;right:476.00px;">0</div>
<div class="t" style="top:1408.83px;font-size:42.67px;transform-origin:0 38.628px;transform:scaleY(1.0170);letter-spacing:0.800px;right:367.30px;">0</div>
<div class="t" style="top:1408.83px;font-size:42.67px;transform-origin:0 38.628px;transform:scaleY(1.0170);letter-spacing:0.800px;right:260.50px;"><span class="o">1</span>0</div>
<div class="t" style="top:1408.83px;font-size:42.67px;transform-origin:0 38.628px;transform:scaleY(1.0170);letter-spacing:0.800px;right:152.80px;">2</div>
<div class="t" style="top:1408.83px;font-size:42.67px;transform-origin:0 38.628px;transform:scaleY(1.0170);letter-spacing:0.800px;right:44.50px;">0</div>
<div class="t" style="top:1460.89px;font-size:42.67px;transform-origin:0 38.628px;transform:scaleY(1.0170);font-weight:bold;letter-spacing:0.800px;right:1249.40px;">808</div>
<div class="t" style="top:1460.89px;font-size:42.67px;transform-origin:0 38.628px;transform:scaleY(1.0170);font-weight:bold;letter-spacing:0.800px;right:1128.60px;">828</div>
<div class="t" style="top:1460.89px;font-size:42.67px;transform-origin:0 38.628px;transform:scaleY(1.0170);font-weight:bold;letter-spacing:0.800px;right:1028.10px;">80</div>
<div class="t" style="top:1460.89px;font-size:42.67px;transform-origin:0 38.628px;transform:scaleY(1.0170);font-weight:bold;letter-spacing:0.800px;right:907.20px;"><span class="ob">1</span>7<span class="ob">1</span>6</div>
<div class="t" style="top:1460.89px;font-size:42.67px;transform-origin:0 38.628px;transform:scaleY(1.0170);font-weight:bold;letter-spacing:0.800px;right:798.60px;">2<span class="ob">1</span>2</div>
<div class="t" style="top:1460.89px;font-size:42.67px;transform-origin:0 38.628px;transform:scaleY(1.0170);font-weight:bold;letter-spacing:0.800px;right:691.00px;">2<span class="ob">1</span>6</div>
<div class="t" style="top:1460.89px;font-size:42.67px;transform-origin:0 38.628px;transform:scaleY(1.0170);font-weight:bold;letter-spacing:0.800px;right:583.90px;">2<span class="ob">1</span>8</div>
<div class="t" style="top:1460.89px;font-size:42.67px;transform-origin:0 38.628px;transform:scaleY(1.0170);font-weight:bold;letter-spacing:0.800px;right:476.00px;">2<span class="ob">1</span>3</div>
<div class="t" style="top:1460.89px;font-size:42.67px;transform-origin:0 38.628px;transform:scaleY(1.0170);font-weight:bold;letter-spacing:0.800px;right:367.30px;">2<span class="ob">1</span>3</div>
<div class="t" style="top:1460.89px;font-size:42.67px;transform-origin:0 38.628px;transform:scaleY(1.0170);font-weight:bold;letter-spacing:0.800px;right:260.50px;">2<span class="ob">1</span>3</div>
<div class="t" style="top:1460.89px;font-size:42.67px;transform-origin:0 38.628px;transform:scaleY(1.0170);font-weight:bold;letter-spacing:0.800px;right:152.80px;">2<span class="ob">1</span>6</div>
<div class="t" style="top:1460.89px;font-size:42.67px;transform-origin:0 38.628px;transform:scaleY(1.0170);font-weight:bold;letter-spacing:0.800px;right:44.50px;">2<span class="ob">1</span>5</div>
<div class="t" style="left:1285.20px;top:370.37px;font-size:42.67px;transform-origin:0 38.628px;transform:rotate(-90deg) scaleY(1.0170);letter-spacing:-0.100px;">Finish Points</div>
<div class="t" style="left:1406.80px;top:370.37px;font-size:42.67px;transform-origin:0 38.628px;transform:rotate(-90deg) scaleY(1.0170);letter-spacing:-0.100px;">Place Points</div>
<div class="t" style="left:1507.00px;top:370.37px;font-size:42.67px;transform-origin:0 38.628px;transform:rotate(-90deg) scaleY(1.0170);letter-spacing:-0.362px;">Fastest Lap Points</div>
<div class="t" style="left:1629.60px;top:370.37px;font-size:42.67px;transform-origin:0 38.628px;transform:rotate(-90deg) scaleY(1.0170);font-weight:bold;letter-spacing:-0.436px;">Season Total</div>
<div class="t" style="left:1737.70px;top:370.37px;font-size:42.67px;transform-origin:0 38.628px;transform:rotate(-90deg) scaleY(1.0170);letter-spacing:-0.100px;"><span class="o">1</span> Australia</div>
<div class="t" style="left:1844.80px;top:370.37px;font-size:42.67px;transform-origin:0 38.628px;transform:rotate(-90deg) scaleY(1.0170);letter-spacing:0.000px;">2 Bahrain</div>
<div class="t" style="left:1952.40px;top:370.37px;font-size:42.67px;transform-origin:0 38.628px;transform:rotate(-90deg) scaleY(1.0170);letter-spacing:-0.225px;">3 China</div>
<div class="t" style="left:2060.50px;top:370.37px;font-size:42.67px;transform-origin:0 38.628px;transform:rotate(-90deg) scaleY(1.0170);letter-spacing:0.241px;">4 Azerbaijan</div>
<div class="t" style="left:2167.70px;top:370.37px;font-size:42.67px;transform-origin:0 38.628px;transform:rotate(-90deg) scaleY(1.0170);letter-spacing:0.000px;">5 Spain</div>
<div class="t" style="left:2275.60px;top:370.37px;font-size:42.67px;transform-origin:0 38.628px;transform:rotate(-90deg) scaleY(1.0170);letter-spacing:-0.157px;">6 Monaco</div>
<div class="t" style="left:2382.40px;top:370.37px;font-size:42.67px;transform-origin:0 38.628px;transform:rotate(-90deg) scaleY(1.0170);letter-spacing:-0.157px;">7 Canada</div>
<div class="t" style="left:2490.40px;top:370.37px;font-size:42.67px;transform-origin:0 38.628px;transform:rotate(-90deg) scaleY(1.0170);letter-spacing:-0.343px;">8 France</div>
</body></html>
